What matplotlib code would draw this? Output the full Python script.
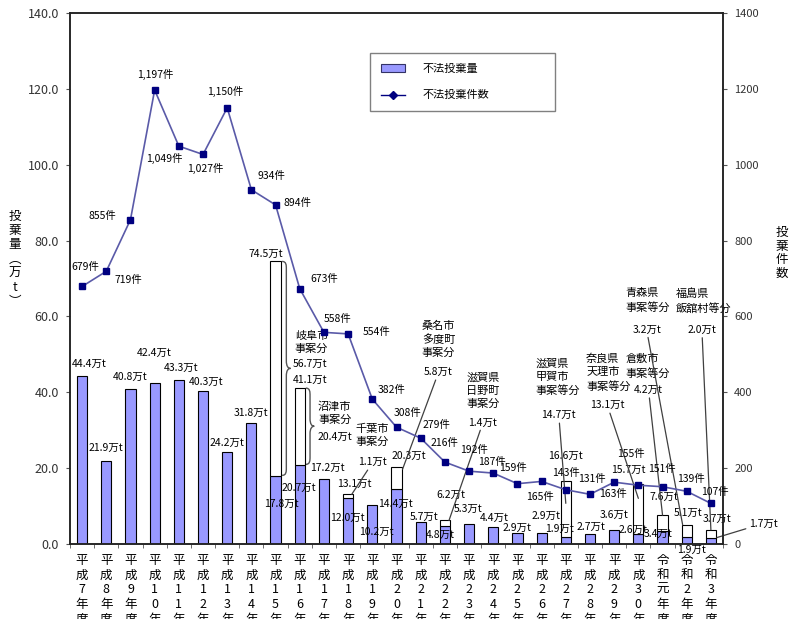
import matplotlib
matplotlib.use("Agg")
import matplotlib.pyplot as plt
import numpy as np
from matplotlib.lines import Line2D
from matplotlib.patches import Patch, PathPatch
from matplotlib.path import Path

plt.rcParams['font.family'] = ['Noto Sans CJK JP', 'DejaVu Sans']

years = ['平成7年度', '平成8年度', '平成9年度', '平成10年度', '平成11年度', '平成12年度',
         '平成13年度', '平成14年度', '平成15年度', '平成16年度', '平成17年度', '平成18年度',
         '平成19年度', '平成20年度', '平成21年度', '平成22年度', '平成23年度', '平成24年度',
         '平成25年度', '平成26年度', '平成27年度', '平成28年度', '平成29年度', '平成30年度',
         '令和元年度', '令和2年度', '令和3年度']

# 不法投棄量（万t）: 年度合計
total_amount = [44.4, 21.9, 40.8, 42.4, 43.3, 40.3, 24.2, 31.8, 74.5, 41.1, 17.2, 13.1,
                10.2, 20.3, 5.7, 6.2, 5.3, 4.4, 2.9, 2.9, 16.6, 2.7, 3.6, 15.7,
                7.6, 5.1, 3.7]
# 大規模事案を除いた分
base_amount = [44.4, 21.9, 40.8, 42.4, 43.3, 40.3, 24.2, 31.8, 17.8, 20.7, 17.2, 12.0,
               10.2, 14.4, 5.7, 4.8, 5.3, 4.4, 2.9, 2.9, 1.9, 2.7, 3.6, 2.6,
               3.4, 1.9, 1.7]
# 不法投棄件数
case_count = [679, 719, 855, 1197, 1049, 1027, 1150, 934, 894, 673, 558, 554,
              382, 308, 279, 216, 192, 187, 159, 165, 143, 131, 163, 155,
              151, 139, 107]

# 大規模事案
case_years = ['平成15年度', '平成16年度', '平成18年度', '平成20年度', '平成22年度',
              '平成27年度', '平成30年度', '令和元年度', '令和2年度', '令和3年度']
case_names = ['岐阜市\n事案分', '沼津市\n事案分', '千葉市\n事案分', '桑名市\n多度町\n事案分',
              '滋賀県\n日野町\n事案分', '滋賀県\n甲賀市\n事案等分', '奈良県\n天理市\n事案等分',
              '倉敷市\n事案等分', '青森県\n事案等分', '福島県\n飯舘村等分']
case_amounts = [56.7, 20.4, 1.1, 5.8, 1.4, 14.7, 13.1, 4.2, 3.2, 2.0]

# label placement (offset pixels from the mark, +y = up)
count_off = [(3, 20), (22, -9), (-28, 4), (1, 16), (-15, -12), (2, -14), (-2, 16), (20, 14),
             (22, 2), (24, 10), (14, 13), (28, 2), (19, 9), (11, 14), (16, 13), (0, 19),
             (5, 21), (-1, 11), (-4, 16), (-2, -16), (0, 17), (2, 15), (-1, -12), (-7, 31),
             (-1, 18), (4, 12), (4, 11)]
total_off = [(7, 12), (0, 13), (0, 12), (0, 30), (2, 12), (3, 9), (0, 9), (0, 10),
             (-10, 8), (10, 8), (3, 11), (6, 10), (4, -27), (12, 11), (3, 5), (6, 26),
             (-1, 15), (1, 9), (0, 5), (4, 17), (0, 25), (1, 7), (0, 15), (-10, 15),
             (1, 18), (1, 12), (6, 11)]
base_off = {8: (6, -27), 9: (-1, -22), 11: (-1, -19), 13: (-1, -15), 15: (-5, -9),
            20: (-6, 8), 23: (-5, 4), 24: (-4, -3), 25: (5, -13)}
# kind, anchor dx (index), anchor position in white part, name offset, amount offset
case_layout = [
    ('brace', 0.27, 1.0, (36, -81), (34, -102)),
    ('brace', 0.25, 1.0, (35, -25), (35, -49)),
    ('leader', 0.15, 1.0, (20, 59), (21, 32)),
    ('leader', 0.25, 0.9, (36, 130), (36, 97)),
    ('leader', 0.17, 1.0, (34, 130), (34, 98)),
    ('leader', 0.0, 0.6, (-8, 126), (-7, 88)),
    ('leader', 0.0, 0.72, (-30, 126), (-31, 93)),
    ('leader', 0.0, 1.0, (-15, 149), (-14, 125)),
    ('leader', -0.17, 1.0, (-35, 224), (-36, 195)),
    ('leader', 0.0, 1.0, (-7, 229), (-9, 200)),
]

BAR = '#9999ff'
LINE = '#5a5aa8'
MARK = '#000080'
LEAD = '#404040'


def brace(ax, x, y0, y1, w, r=2.0):
    ym = (y0 + y1) / 2
    xm = x + w * 0.5
    verts = [(x, y1), (xm, y1), (xm, y1 - r * 0.5), (xm, y1 - r),
             (xm, ym + r),
             (xm, ym + r * 0.3), (x + w * 0.7, ym), (x + w, ym),
             (x + w * 0.7, ym), (xm, ym - r * 0.3), (xm, ym - r),
             (xm, y0 + r),
             (xm, y0 + r * 0.5), (xm, y0), (x, y0)]
    codes = [Path.MOVETO, Path.CURVE4, Path.CURVE4, Path.CURVE4,
             Path.LINETO,
             Path.CURVE4, Path.CURVE4, Path.CURVE4,
             Path.CURVE4, Path.CURVE4, Path.CURVE4,
             Path.LINETO,
             Path.CURVE4, Path.CURVE4, Path.CURVE4]
    ax.add_patch(PathPatch(Path(verts, codes), fill=False, ec='#555555', lw=1.0))


fig = plt.figure(figsize=(7.92, 6.19), dpi=100)
ax = fig.add_axes([70 / 792, 75 / 619, 653 / 792, 531 / 619])
ax2 = ax.twinx()

x = np.arange(len(years))
width = 0.42
ax.bar(x, base_amount, width, color=BAR, edgecolor='black', lw=0.8, zorder=2)
extra = np.array(total_amount) - np.array(base_amount)
split = extra > 0.05
ax.bar(x[split], extra[split], width, bottom=np.array(base_amount)[split],
       color='white', edgecolor='black', lw=0.8, zorder=2)

ax.set_xlim(-0.5, len(years) - 0.5)
ax.set_ylim(0, 140)
ax.set_yticks(np.arange(0, 141, 20))
ax.set_yticklabels([f'{v:.1f}' for v in np.arange(0, 141, 20)], fontsize=9, color='#333333')
ax.tick_params(axis='y', length=3, pad=5, color='#555555')
ax.set_xticks(x)
ax.set_xticklabels(['\n'.join(y) for y in years], fontsize=9, linespacing=1.17)
ax.tick_params(axis='x', which='major', length=0, pad=7)
ax.set_xticks(np.arange(-0.5, len(years)), minor=True)
ax.tick_params(axis='x', which='minor', length=3, color='#555555')

ax2.set_ylim(0, 1400)
ax2.set_yticks(np.arange(0, 1401, 200))
ax2.tick_params(axis='y', length=3, pad=5, labelsize=8, labelcolor='#333333', color='#555555')
for a in (ax, ax2):
    for s in a.spines.values():
        s.set_linewidth(1.1)
        s.set_color('#222222')

ax2.plot(x, case_count, color=LINE, lw=1.2, marker='s', ms=4.5,
         mfc=MARK, mec=MARK, zorder=3)

txt = dict(ha='center', va='center', fontsize=7.5, textcoords='offset pixels')
for i, c in enumerate(case_count):
    ax2.annotate(f'{c:,}件', (i, c), xytext=count_off[i], **txt)
for i, v in enumerate(total_amount):
    ax.annotate(f'{v}万t', (i, v), xytext=total_off[i], **txt)
for i, (dx, dy) in base_off.items():
    ax.annotate(f'{base_amount[i]}万t', (i, base_amount[i]), xytext=(dx, dy), **txt)
# 令和3年度の事案外分は引出し線付き
last = len(years) - 1
ax.annotate(f'{base_amount[last]}万t', (last + 0.25, base_amount[last]), xytext=(46, 14),
            arrowprops=dict(arrowstyle='-', color=LEAD, lw=0.9, shrinkA=0, shrinkB=0), **txt)

for yr, name, amt, lay in zip(case_years, case_names, case_amounts, case_layout):
    i = years.index(yr)
    kind, adx, frac, name_off, amt_off = lay
    lo, hi = base_amount[i], total_amount[i]
    ay = lo + frac * (hi - lo)
    if kind == 'brace':
        brace(ax, i + adx, lo + 0.3, hi, 0.35)
        ax.annotate(f'{amt}万t', (i, ay), xytext=amt_off, **txt)
    else:
        ax.annotate(f'{amt}万t', (i + adx, ay), xytext=amt_off,
                    arrowprops=dict(arrowstyle='-', color=LEAD, lw=0.9, shrinkA=0, shrinkB=0),
                    **txt)
    ax.annotate(name, (i + adx if kind == 'leader' else i, ay), xytext=name_off,
                ha='center', va='center', fontsize=8, textcoords='offset pixels',
                multialignment='left', linespacing=1.4)

fig.text(15 / 792, 1 - 259 / 619, '投\n棄\n量\n︵\n万\nt\n︶', ha='center', va='center',
         fontsize=9, linespacing=1.12)
fig.text(782 / 792, 1 - 253 / 619, '投\n棄\n件\n数', ha='center', va='center',
         fontsize=9, linespacing=1.05)

handles = [Patch(facecolor=BAR, edgecolor='#333366', lw=0.8),
           Line2D([], [], color=MARK, marker='D', ms=4, lw=1)]
leg = ax2.legend(handles, ['不法投棄量', '不法投棄件数'], loc='center',
                 bbox_to_anchor=(370 / 792, 1 - 111 / 619, 185 / 792, 58 / 619),
                 bbox_transform=fig.transFigure, mode='expand', borderaxespad=0, fontsize=8,
                 fancybox=False, framealpha=1, edgecolor='#808080',
                 handlelength=2.2, handletextpad=1.6, labelspacing=1.5, borderpad=0.95)
leg.get_frame().set_linewidth(1.0)

fig.savefig('out.png', dpi=100)
